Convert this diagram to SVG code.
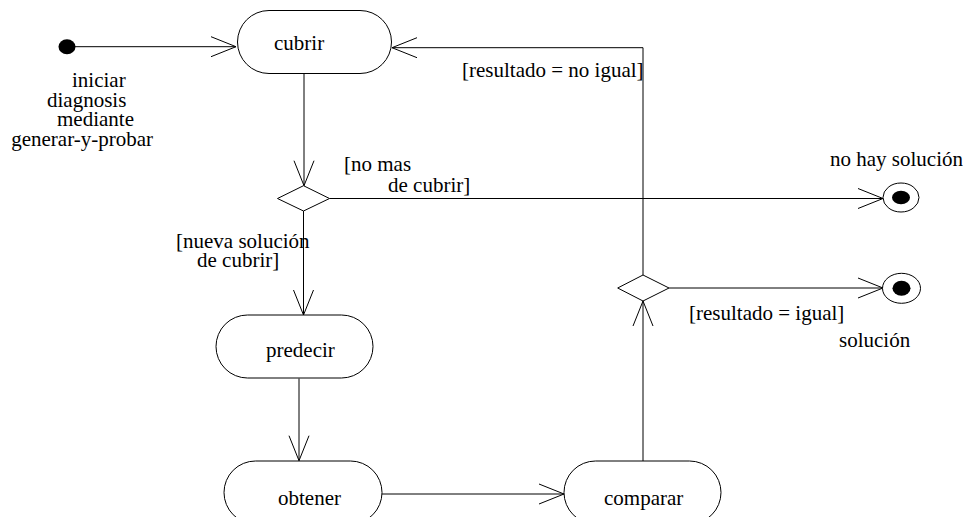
<svg xmlns="http://www.w3.org/2000/svg" width="963" height="517" viewBox="0 0 963 517">
  <style>
    .act { fill: #fff; stroke: #000; stroke-width: 1; }
    .dec { fill: #fff; stroke: #000; stroke-width: 1; }
    .edge { fill: none; stroke: #000; stroke-width: 1; marker-end: url(#open); }
    text { font-family: "Liberation Serif", "Times New Roman", serif; font-size: 21px; fill: #000; }
  </style>
  <defs>
    <marker id="open" viewBox="-27 -12 30 24" refX="0" refY="0" markerWidth="30" markerHeight="24" markerUnits="userSpaceOnUse" orient="auto">
      <path d="M-25,-10 L0,0 L-25,10" fill="none" stroke="#000" stroke-width="1"/>
    </marker>
  </defs>

  <!-- connectors -->
  <g id="connectors">
    <path class="edge" d="M75,46.7 H236"/>
    <path class="edge" d="M304,73.5 V185.7"/>
    <path class="edge" d="M329.5,198.5 H883"/>
    <path class="edge" d="M303.5,211 V315"/>
    <path class="edge" d="M299,378.5 V460.7"/>
    <path class="edge" d="M382,494 H564"/>
    <path class="edge" d="M643,461 V301"/>
    <path class="edge" d="M643,275 V47.7 H392"/>
    <path class="edge" d="M669,288 H883"/>
  </g>

  <!-- guard labels -->
  <g id="guards">
    <text x="344" y="171">[no mas</text>
    <text x="388" y="191.5">de cubrir]</text>
    <text x="176" y="248">[nueva solución</text>
    <text x="197" y="267">de cubrir]</text>
    <text x="462" y="77">[resultado = no igual]</text>
    <text x="689" y="320">[resultado = igual]</text>
  </g>

  <g id="start">
    <ellipse cx="67" cy="46.7" rx="8.5" ry="7.5" fill="#000"/>
    <text x="72" y="87">iniciar</text>
    <text x="47" y="106.7">diagnosis</text>
    <text x="57" y="126.4">mediante</text>
    <text x="153" y="146" text-anchor="end">generar-y-probar</text>
  </g>

  <g id="cubrir">
    <rect class="act" x="237.5" y="10.5" width="154" height="63" rx="31.5" ry="31.5"/>
    <text x="274" y="50">cubrir</text>
  </g>

  <g id="decision1">
    <polygon class="dec" points="277.5,198.5 303.5,185.7 329.5,198.5 303.5,211"/>
  </g>

  <g id="no-solucion">
    <ellipse cx="901" cy="197.5" rx="18" ry="14.5" fill="#fff" stroke="#000" stroke-width="1"/>
    <ellipse cx="901" cy="197.5" rx="9" ry="6.8" fill="#000"/>
    <text x="830" y="166">no hay solución</text>
  </g>

  <g id="predecir">
    <rect class="act" x="216" y="315" width="157" height="63" rx="31.5" ry="31.5"/>
    <text x="266" y="357">predecir</text>
  </g>

  <g id="obtener">
    <rect class="act" x="224" y="461" width="158" height="63" rx="31.5" ry="31.5"/>
    <text x="278" y="504.5">obtener</text>
  </g>

  <g id="comparar">
    <rect class="act" x="564" y="461" width="157" height="63" rx="31.5" ry="31.5"/>
    <text x="604" y="504.5">comparar</text>
  </g>

  <g id="decision2">
    <polygon class="dec" points="617.7,288 643,275 669,288 643,301"/>
  </g>

  <g id="solucion">
    <ellipse cx="901.5" cy="288.3" rx="19" ry="15" fill="#fff" stroke="#000" stroke-width="1"/>
    <ellipse cx="901.5" cy="288.3" rx="9" ry="7.5" fill="#000"/>
    <text x="839" y="347">solución</text>
  </g>
</svg>
